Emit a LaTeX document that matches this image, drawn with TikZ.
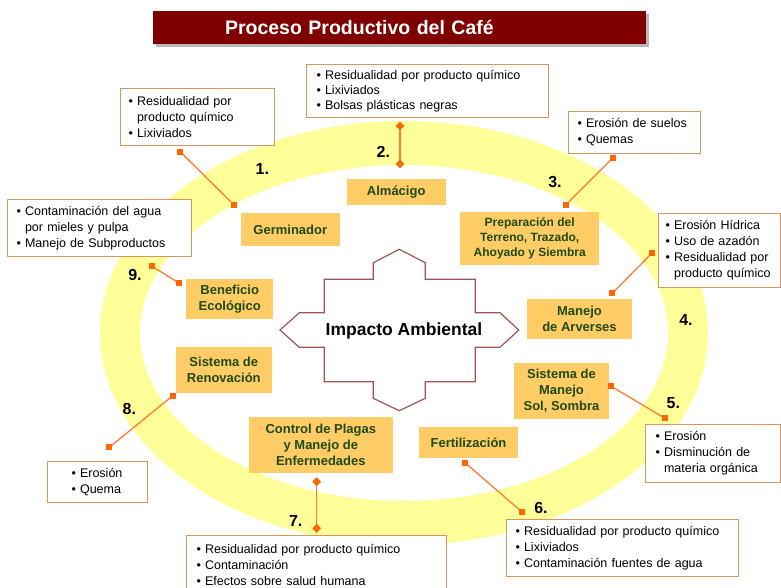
\documentclass[tikz,border=0pt]{standalone}
\usepackage{fontspec}
\setmainfont{Liberation Sans}
\usetikzlibrary{shapes.geometric}
\definecolor{ringy}{HTML}{FFFF99}
\definecolor{stepf}{HTML}{FFCC66}
\definecolor{stept}{HTML}{1F4A12}
\definecolor{bord}{HTML}{D9955F}
\definecolor{connc}{HTML}{FF7A33}
\definecolor{mk}{HTML}{FF6600}
\definecolor{titlef}{HTML}{800000}
\definecolor{impc}{HTML}{A05555}
\newcommand{\bl}{\textbullet\ }
\newcommand{\ind}{\hphantom{\textbullet\ }}
\begin{document}
\begin{tikzpicture}[x=1pt,y=-1pt,
  bbox/.style={draw=bord, line width=1pt, fill=white, anchor=north west, align=left, inner ysep=0pt, font=\fontsize{12.5}{16}\selectfont},
  stepbox/.style={fill=stepf, text=stept, align=center, inner sep=0pt, font=\bfseries\fontsize{13}{16}\selectfont},
  num/.style={font=\bfseries\fontsize{16}{16}\selectfont, inner sep=0pt},
  cline/.style={draw=connc, line width=1.3pt},
  sq/.style={fill=mk, inner sep=0pt, minimum size=6pt},
  dia/.style={diamond, fill=mk, inner sep=0pt, minimum size=9pt},
]
\useasboundingbox (0,0) rectangle (781,587);
\fill[white] (0,0) rectangle (781,587);

% ring
\fill[ringy, even odd rule] (404,333) ellipse [x radius=304, y radius=212]
                            (404,333) ellipse [x radius=264, y radius=168];

% title
\fill[gray!55] (155.5,13.5) rectangle (648.5,46.5);
\node[fill=titlef, text=white, font=\bfseries\fontsize{19.5}{20}\selectfont,
      minimum height=33pt, inner xsep=72pt, inner ysep=0pt, text width=349pt, align=left]
      (title) at (399.5,27.5) {Proceso Productivo del Café};

% central shape
\draw[impc, line width=1.2pt, fill=white]
  (399.3,249.3) -- (425.3,262.7) -- (425.3,279.3) -- (475.3,279.3) -- (475.3,312.7)
  -- (500,312.7) -- (518.7,330) -- (500,347.3) -- (475.3,347.3) -- (475.3,381.7)
  -- (425.3,381.7) -- (425.3,398.3) -- (399.3,410.7) -- (373.3,398.3) -- (373.3,381.7)
  -- (324.3,381.7) -- (324.3,347.3) -- (299.3,347.3) -- (280,330) -- (299.3,312.7)
  -- (324.3,312.7) -- (324.3,279.3) -- (373.3,279.3) -- (373.3,262.7) -- cycle;
\node[font=\bfseries\fontsize{17.5}{18}\selectfont] (imp) at (404,331) {Impacto Ambiental};

% step boxes
\node[stepbox, minimum width=99.3pt, minimum height=32.4pt] (germ) at (290.3,229.5) {Germinador};
\node[stepbox, minimum width=99pt, minimum height=26pt] (alm) at (396.2,192) {Almácigo};
\node[stepbox, minimum width=139.3pt, minimum height=53.3pt, font=\bfseries\fontsize{12}{15}\selectfont] (prep) at (529.7,238.3) {Preparación del\\Terreno, Trazado,\\Ahoyado y Siembra};
\node[stepbox, minimum width=105.6pt, minimum height=40pt] (arv) at (579.5,319.3) {Manejo\\de Arverses};
\node[stepbox, minimum width=94.4pt, minimum height=56.6pt] (sol) at (561.5,391) {Sistema de\\Manejo\\Sol, Sombra};
\node[stepbox, minimum width=98.4pt, minimum height=31.6pt] (fert) at (468.5,442.5) {Fertilización};
\node[stepbox, minimum width=143.7pt, minimum height=56.6pt] (plag) at (320.8,445) {Control de Plagas\\y Manejo de\\Enfermedades};
\node[stepbox, minimum width=95.7pt, minimum height=45.4pt] (ren) at (223.8,370) {Sistema de\\Renovación};
\node[stepbox, minimum width=87.3pt, minimum height=40pt] (ben) at (229.7,299.3) {Beneficio\\Ecológico};

% bullet boxes
\node[bbox, inner xsep=8pt, text width=138pt, minimum height=57pt] (b1) at (120,88)
  {\bl Residualidad por\\\ind producto químico\\\bl Lixiviados};
\node[bbox, inner xsep=10pt, text width=222pt, minimum height=53pt, font=\fontsize{12.5}{15}\selectfont] (b2) at (306,64)
  {\bl Residualidad por producto químico\\\bl Lixiviados\\\bl Bolsas plásticas negras};
\node[bbox, inner xsep=9pt, text width=114pt, minimum height=42pt] (b3) at (568,111)
  {\bl Erosión de suelos\\\bl Quemas};
\node[bbox, inner xsep=7pt, text width=108pt, minimum height=74pt] (b4) at (658,213)
  {\bl Erosión Hídrica\\\bl Uso de azadón\\\bl Residualidad por\\\mbox{\ind producto químico}};
\node[bbox, inner xsep=10pt, text width=115pt, minimum height=58pt] (b5) at (645,424)
  {\bl Erosión\\\bl Disminución de\\\ind materia orgánica};
\node[bbox, inner xsep=9pt, text width=214pt, minimum height=57pt] (b6) at (506,519)
  {\bl Residualidad por producto químico\\\bl Lixiviados\\\bl Contaminación fuentes de agua};
\node[bbox, inner xsep=10pt, text width=240pt, minimum height=58pt] (b7) at (186,535)
  {\bl Residualidad por producto químico\\\bl Contaminación\\\bl Efectos sobre salud humana};
\node[bbox, inner xsep=24pt, text width=52pt, minimum height=41pt] (b8) at (47,461)
  {\bl Erosión\\\bl Quema};
\node[bbox, inner xsep=9pt, text width=166pt, minimum height=57pt] (b9) at (7,199)
  {\bl Contaminación del agua\\\ind por mieles y pulpa\\\bl Manejo de Subproductos};

% connector end points
\coordinate (c1a) at (180.3,151.7); \coordinate (c1b) at (233.7,204.7);
\coordinate (c2a) at (400,126);     \coordinate (c2b) at (400,164);
\coordinate (c3a) at (612.7,158);   \coordinate (c3b) at (566,204.7);
\coordinate (c4a) at (652.3,252.7); \coordinate (c4b) at (612.3,293.3);
\coordinate (c5a) at (610.7,386);   \coordinate (c5b) at (665,418.3);
\coordinate (c6a) at (465,462.7);   \coordinate (c6b) at (521.7,511.7);
\coordinate (c7a) at (316.7,481.7); \coordinate (c7b) at (316.7,528.3);
\coordinate (c8a) at (172.7,395.7); \coordinate (c8b) at (109.3,447.3);
\coordinate (c9a) at (151.7,266);   \coordinate (c9b) at (179.3,283.3);

\foreach \i in {1,...,9} {\draw[cline] (c\i a) -- (c\i b);}
\foreach \i in {1,3,4,5,6,8,9} {\node[sq] at (c\i a) {}; \node[sq] at (c\i b) {};}
\foreach \i in {2,7} {\node[dia] at (c\i a) {}; \node[dia] at (c\i b) {};}

% numbers
\node[num] (n1) at (262.3,169) {1.};
\node[num] (n2) at (383.3,151.7) {2.};
\node[num] (n3) at (555,181.7) {3.};
\node[num] (n4) at (686,320) {4.};
\node[num] (n5) at (673.3,402.7) {5.};
\node[num] (n6) at (541,508.3) {6.};
\node[num] (n7) at (295.7,521) {7.};
\node[num] (n8) at (129.3,409.3) {8.};
\node[num] (n9) at (135,275) {9.};
\end{tikzpicture}
\end{document}
